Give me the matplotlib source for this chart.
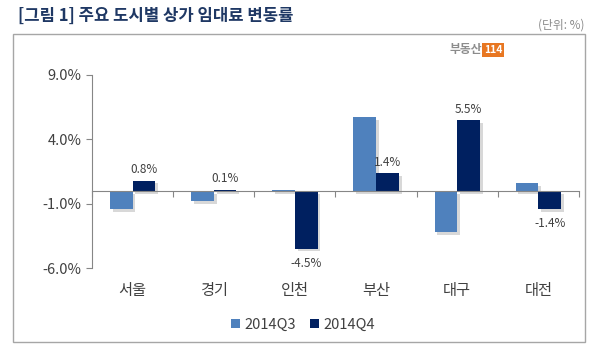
import matplotlib
matplotlib.use("Agg")
import matplotlib.pyplot as plt
import matplotlib.patheffects as pe
from matplotlib.patches import Rectangle, Patch
import matplotlib.transforms as mtransforms
import numpy as np

plt.rcParams['font.family'] = ['Noto Sans CJK KR', 'DejaVu Sans']

categories = ['서울', '경기', '인천', '부산', '대구', '대전']
q3 = [-1.4, -0.8, 0.1, 5.7, -3.2, 0.6]
q4 = [0.8, 0.1, -4.5, 1.4, 5.5, -1.4]
q4_labels = ['0.8%', '0.1%', '-4.5%', '1.4%', '5.5%', '-1.4%']
yticks = [-6.0, -1.0, 4.0, 9.0]
ytick_labels = ['-6.0%', '-1.0%', '4.0%', '9.0%']
series_names = ['2014Q3', '2014Q4']
colors = ['#4F81BD', '#002060']

W, H = 600, 359
fig = plt.figure(figsize=(6, 3.59), dpi=100)

# outer frame
fig.patches.append(Rectangle((13 / W, 1 - 342 / H), (585 - 13) / W, (342 - 34) / H,
                             transform=fig.transFigure, fill=False,
                             edgecolor='#A6A6A6', linewidth=1.0))

fig.text(18 / W, 1 - 16 / H, '[그림 1] 주요 도시별 상가 임대료 변동률', fontsize=12,
         fontweight='bold', color='#1F3864', va='center', ha='left')
fig.text(585 / W, 1 - 25 / H, '(단위: %)', fontsize=8.5, color='#8C8C8C',
         va='center', ha='right')
# logo
fig.text(482 / W, 1 - 50 / H, '부동산', fontsize=8.5, fontweight='bold',
         color='#8C8C8C', va='center', ha='right')
fig.text(484 / W, 1 - 50 / H, '114', fontsize=7.5, fontweight='bold', color='white',
         va='center', ha='left',
         bbox=dict(boxstyle='square,pad=0.15', facecolor='#E87722', edgecolor='none'))

ax = fig.add_axes([92 / W, 1 - 268 / H, (579 - 92) / W, (268 - 75) / H])
x = np.arange(len(categories))
bw = 0.28
shadow = [pe.SimplePatchShadow(offset=(2, -2), shadow_rgbFace='#7F7F7F', alpha=0.3),
          pe.Normal()]
b3 = ax.bar(x - bw / 2, q3, bw, color=colors[0], label=series_names[0])
b4 = ax.bar(x + bw / 2, q4, bw, color=colors[1], label=series_names[1])
for b in list(b3) + list(b4):
    b.set_path_effects(shadow)

for xi, v, lab in zip(x, q4, q4_labels):
    if v >= 0:
        ax.annotate(lab, (xi + bw / 2, v), xytext=(0, 3), textcoords='offset points',
                    ha='center', va='bottom', fontsize=8.5, color='#404040')
    else:
        ax.annotate(lab, (xi + bw / 2, v), xytext=(0, -6), textcoords='offset points',
                    ha='center', va='top', fontsize=8.5, color='#404040')

ax.set_xlim(-0.5, len(categories) - 0.5)
ax.set_ylim(-6, 9)
ax.set_yticks(yticks)
ax.set_yticklabels(ytick_labels, fontsize=10.5, color='#404040')
ax.set_xticks(np.arange(len(categories) + 1) - 0.5)
ax.set_xticklabels([''] * (len(categories) + 1))
ax.tick_params(axis='x', direction='out', length=4, color='#868686')
ax.tick_params(axis='y', direction='out', length=4, color='#868686')
ax.spines['top'].set_visible(False)
ax.spines['right'].set_visible(False)
ax.spines['bottom'].set_position(('data', 0))
ax.spines['bottom'].set_color('#868686')
ax.spines['left'].set_color('#868686')
ax.patch.set_alpha(0)

trans = mtransforms.blended_transform_factory(ax.transData, ax.transAxes)
for xi, c in zip(x, categories):
    ax.text(xi, -0.115, c, transform=trans, ha='center', va='center',
            fontsize=11, color='#404040')

handles = [Patch(facecolor=c, edgecolor='none') for c in colors]
fig.legend(handles=handles, labels=series_names, loc='center',
           bbox_to_anchor=(303 / W, 1 - 325 / H), ncol=2, frameon=False,
           handlelength=0.6, handleheight=0.6, handletextpad=0.3, columnspacing=1.0,
           fontsize=10.5, labelcolor='#404040')

fig.savefig('out.png', dpi=100)
